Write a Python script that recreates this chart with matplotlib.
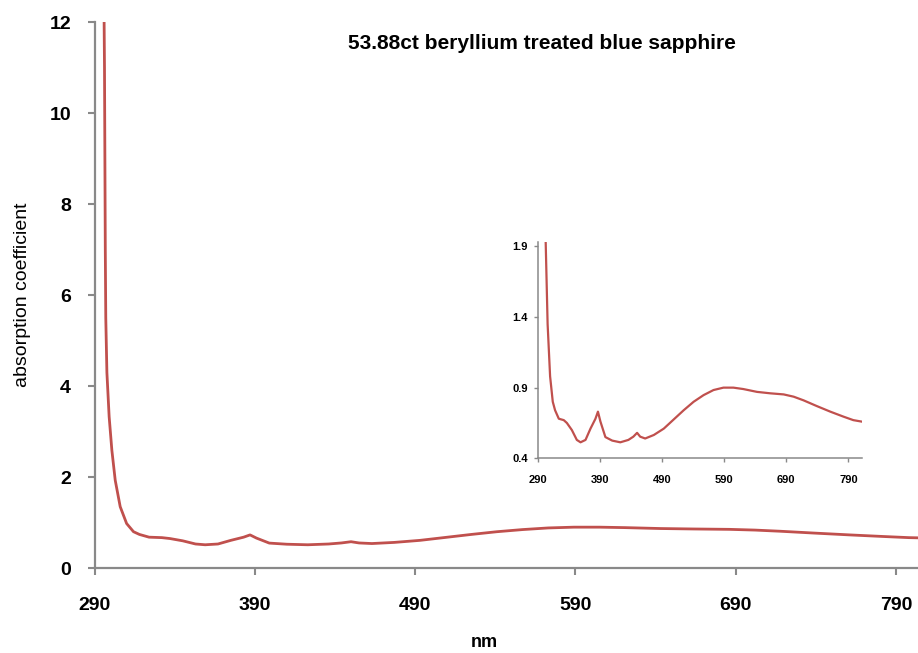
"""
Absorption spectrum of a beryllium treated blue sapphire, with zoomed inset
"""
import matplotlib
matplotlib.use("Agg")
import matplotlib.pyplot as plt

# wavelength (nm) and absorption coefficient
wavelength = [295.5, 296.2, 296.7, 297, 297.7, 299.1, 300.8, 302.9, 306, 310,
              314.3, 318, 324, 332, 337, 345, 353, 359, 367, 375,
              383, 387, 391, 399, 410, 423, 436, 444, 450, 455,
              463, 477, 493, 509, 525, 541, 557, 573, 589, 605,
              621, 643, 664, 686, 702, 718, 739, 761, 782, 798, 811]
absorption = [14.0, 11.0, 7.0, 5.5, 4.3, 3.33, 2.59, 1.93, 1.35, 0.98,
              0.80, 0.74, 0.68, 0.67, 0.65, 0.60, 0.53, 0.513, 0.53, 0.61,
              0.68, 0.73, 0.66, 0.55, 0.525, 0.513, 0.53, 0.553, 0.58, 0.553,
              0.54, 0.565, 0.61, 0.675, 0.74, 0.80, 0.847, 0.883, 0.90, 0.90,
              0.89, 0.87, 0.86, 0.852, 0.836, 0.81, 0.77, 0.73, 0.695, 0.67, 0.66]

x_ticks = [290, 390, 490, 590, 690, 790]
main_y_ticks = [0, 2, 4, 6, 8, 10, 12]
inset_y_ticks = [0.4, 0.9, 1.4, 1.9]

title = "53.88ct beryllium treated blue sapphire"
line_color = "#C0504D"
axis_color = "#898989"
font = "Liberation Sans"


def style_axes(ax, tick_len, tick_w, spine_w):
    for side in ("top", "right"):
        ax.spines[side].set_visible(False)
    for side in ("left", "bottom"):
        ax.spines[side].set_color(axis_color)
        ax.spines[side].set_linewidth(spine_w)
    ax.tick_params(direction="out", length=tick_len, width=tick_w, color=axis_color)


fig = plt.figure(figsize=(9.18, 6.53), dpi=100)

# main chart
ax = fig.add_axes([0.103, 0.130, 0.897, 0.836])
ax.plot(wavelength, absorption, color=line_color, linewidth=2.0)
ax.set_xlim(290, 803.7)
ax.set_ylim(0, 12)
ax.set_xticks(x_ticks)
ax.set_yticks(main_y_ticks)
style_axes(ax, 5, 1.5, 1.6)
ax.tick_params(axis="x", pad=16)
ax.tick_params(axis="y", pad=12)
for lbl in ax.get_xticklabels() + ax.get_yticklabels():
    lbl.set_fontfamily(font)
    lbl.set_fontweight("bold")
    lbl.set_fontsize(14)

# inset
axi = fig.add_axes([0.5857, 0.2982, 0.3533, 0.331])
axi.plot(wavelength, absorption, color=line_color, linewidth=1.6)
axi.set_xlim(290, 812)
axi.set_ylim(0.4, 1.93)
axi.set_xticks(x_ticks)
axi.set_yticks(inset_y_ticks)
style_axes(axi, 3, 1.0, 1.1)
axi.tick_params(axis="x", pad=9)
axi.tick_params(axis="y", pad=4)
for lbl in axi.get_xticklabels() + axi.get_yticklabels():
    lbl.set_fontfamily(font)
    lbl.set_fontweight("bold")
    lbl.set_fontsize(8)

fig.text(0.590, 0.934, title, ha="center", va="center",
         fontfamily=font, fontweight="bold", fontsize=15)
fig.text(0.024, 0.548, "absorption coefficient", ha="center", va="center",
         rotation=90, fontfamily=font, fontsize=14)
fig.text(0.528, 0.016, "nm", ha="center", va="center",
         fontfamily=font, fontweight="bold", fontsize=13)

fig.savefig("out.png", dpi=100)
